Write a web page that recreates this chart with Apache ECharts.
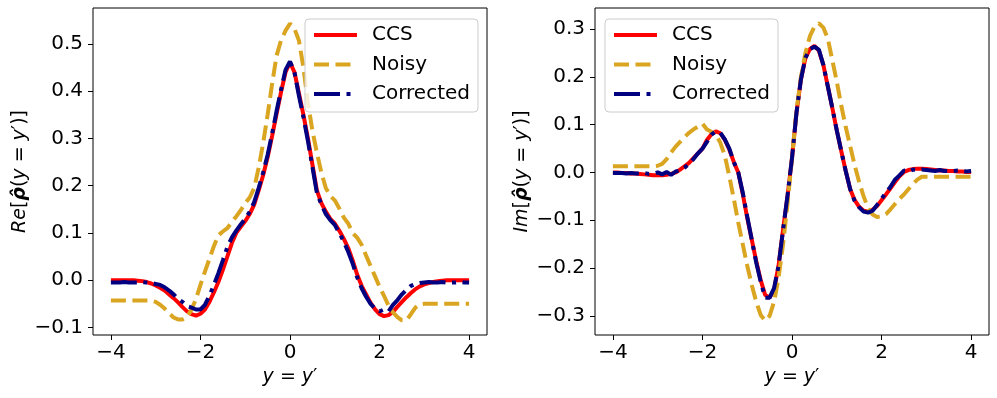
<!DOCTYPE html>
<html>
<head>
<meta charset="utf-8">
<script src="https://cdn.jsdelivr.net/npm/echarts@6/dist/echarts.min.js"></script>
<style>
  html, body { margin: 0; padding: 0; background: #fff; }
  #chart { width: 997px; height: 398px; }
</style>
</head>
<body>
<div id="chart"></div>
<script>
// positions along y = y'
const xs = [
  -4.0, -3.9, -3.8, -3.7, -3.6, -3.5, -3.4, -3.3, -3.2, -3.1,
  -3.0, -2.9, -2.8, -2.7, -2.6, -2.5, -2.4, -2.3, -2.2, -2.1,
  -2.0, -1.9, -1.8, -1.7, -1.6, -1.5, -1.4, -1.3, -1.2, -1.1,
  -1.0, -0.9, -0.8, -0.7, -0.6, -0.5, -0.4, -0.3, -0.2, -0.1,
  0.0, 0.1, 0.2, 0.3, 0.4, 0.5, 0.6, 0.7, 0.8, 0.9,
  1.0, 1.1, 1.2, 1.3, 1.4, 1.5, 1.6, 1.7, 1.8, 1.9,
  2.0, 2.1, 2.2, 2.3, 2.4, 2.5, 2.6, 2.7, 2.8, 2.9,
  3.0, 3.1, 3.2, 3.3, 3.4, 3.5, 3.6, 3.7, 3.8, 3.9,
  4.0
]

// real part
const reCCS = [
  0, 0, 0, 0, 0, 0, -0.001, -0.002, -0.004, -0.007,
  -0.011, -0.016, -0.022, -0.030, -0.038, -0.047, -0.057, -0.066, -0.072, -0.075,
  -0.071, -0.062, -0.046, -0.026, -0.004, 0.022, 0.050, 0.078, 0.100, 0.113,
  0.125, 0.140, 0.160, 0.190, 0.222, 0.260, 0.305, 0.352, 0.398, 0.440,
  0.461, 0.440, 0.395, 0.350, 0.300, 0.245, 0.190, 0.163, 0.145, 0.130,
  0.120, 0.105, 0.088, 0.068, 0.042, 0.012, -0.012, -0.030, -0.048, -0.062,
  -0.072, -0.076, -0.074, -0.067, -0.056, -0.046, -0.036, -0.027, -0.019, -0.013,
  -0.009, -0.006, -0.004, -0.002, -0.001, 0, 0, 0, 0, 0,
  0
]
const reNoisy = [
  -0.043, -0.043, -0.043, -0.043, -0.043, -0.043, -0.043, -0.043, -0.043, -0.043,
  -0.046, -0.052, -0.060, -0.070, -0.079, -0.083, -0.083, -0.078, -0.062, -0.040,
  -0.010, 0.018, 0.045, 0.072, 0.095, 0.103, 0.110, 0.123, 0.135, 0.148,
  0.163, 0.175, 0.195, 0.238, 0.290, 0.350, 0.415, 0.475, 0.508, 0.528,
  0.543, 0.532, 0.507, 0.450, 0.375, 0.317, 0.270, 0.228, 0.195, 0.178,
  0.169, 0.152, 0.133, 0.120, 0.100, 0.090, 0.075, 0.052, 0.030, 0.008,
  -0.014, -0.033, -0.054, -0.068, -0.078, -0.085, -0.085, -0.072, -0.058, -0.051,
  -0.050, -0.050, -0.050, -0.050, -0.050, -0.050, -0.050, -0.050, -0.050, -0.050,
  -0.050
]
const reCorr = [
  -0.005, -0.005, -0.005, -0.004, -0.005, -0.005, -0.005, -0.004, -0.005, -0.006,
  -0.008, -0.010, -0.015, -0.022, -0.030, -0.040, -0.046, -0.055, -0.058, -0.062,
  -0.062, -0.052, -0.033, -0.010, 0.015, 0.042, 0.070, 0.090, 0.105, 0.118,
  0.130, 0.145, 0.165, 0.195, 0.228, 0.265, 0.310, 0.358, 0.403, 0.445,
  0.463, 0.440, 0.390, 0.345, 0.295, 0.240, 0.185, 0.160, 0.140, 0.127,
  0.117, 0.100, 0.082, 0.060, 0.035, 0.006, -0.017, -0.035, -0.050, -0.060,
  -0.066, -0.062, -0.066, -0.052, -0.042, -0.030, -0.020, -0.012, -0.008, -0.006,
  -0.005, -0.004, -0.005, -0.005, -0.004, -0.005, -0.005, -0.005, -0.004, -0.005,
  -0.005
]

// imaginary part
const imCCS = [
  0, 0, -0.001, -0.001, -0.002, -0.002, -0.003, -0.004, -0.005, -0.006,
  -0.006, -0.006, -0.005, -0.003, 0.000, 0.006, 0.013, 0.020, 0.030, 0.040,
  0.050, 0.068, 0.080, 0.086, 0.082, 0.068, 0.048, 0.022, 0.000, -0.045,
  -0.095, -0.140, -0.185, -0.225, -0.256, -0.262, -0.245, -0.195, -0.120, -0.050,
  0.030, 0.125, 0.195, 0.240, 0.258, 0.265, 0.255, 0.225, 0.180, 0.135,
  0.088, 0.045, 0.003, -0.035, -0.058, -0.072, -0.080, -0.082, -0.078, -0.070,
  -0.058, -0.046, -0.033, -0.020, -0.008, 0.001, 0.005, 0.007, 0.008, 0.008,
  0.007, 0.006, 0.005, 0.004, 0.004, 0.003, 0.003, 0.002, 0.002, 0.001,
  0.001
]
const imNoisy = [
  0.013, 0.013, 0.013, 0.013, 0.013, 0.013, 0.013, 0.013, 0.013, 0.013,
  0.014, 0.018, 0.028, 0.042, 0.054, 0.064, 0.074, 0.083, 0.090, 0.096,
  0.102, 0.090, 0.085, 0.078, 0.062, 0.035, -0.008, -0.055, -0.105, -0.150,
  -0.195, -0.235, -0.270, -0.298, -0.310, -0.300, -0.270, -0.220, -0.150, -0.065,
  0.030, 0.130, 0.200, 0.250, 0.285, 0.305, 0.312, 0.303, 0.280, 0.235,
  0.190, 0.140, 0.095, 0.055, 0.015, -0.020, -0.050, -0.075, -0.088, -0.093,
  -0.092, -0.087, -0.077, -0.066, -0.055, -0.046, -0.035, -0.024, -0.015, -0.009,
  -0.009, -0.009, -0.009, -0.009, -0.009, -0.009, -0.009, -0.009, -0.009, -0.009,
  -0.009
]
const imCorr = [
  -0.001, -0.001, -0.001, -0.002, -0.001, -0.002, -0.002, -0.001, -0.003, -0.002,
  0.000, -0.004, 0.001, -0.005, 0.002, 0.004, 0.010, 0.018, 0.028, 0.040,
  0.050, 0.064, 0.079, 0.086, 0.083, 0.069, 0.050, 0.022, 0.000, -0.042,
  -0.092, -0.140, -0.188, -0.228, -0.262, -0.262, -0.242, -0.195, -0.120, -0.048,
  0.030, 0.125, 0.195, 0.240, 0.258, 0.263, 0.257, 0.225, 0.180, 0.135,
  0.088, 0.045, 0.003, -0.035, -0.060, -0.073, -0.082, -0.084, -0.080, -0.068,
  -0.055, -0.042, -0.030, -0.015, -0.006, 0.004, 0.002, 0.006, 0.005, 0.006,
  0.005, 0.004, 0.003, 0.005, 0.003, 0.003, 0.003, 0.004, 0.003, 0.002,
  0.003
]

// tick labels
const xTicks = [-4, -2, 0, 2, 4]
const reTicks = [-0.1, 0.0, 0.1, 0.2, 0.3, 0.4, 0.5]
const imTicks = [-0.3, -0.2, -0.1, 0.0, 0.1, 0.2, 0.3]
const names = ['CCS', 'Noisy', 'Corrected']

const FONT = 'DejaVu Sans'
const FS = 20
const minus = v => (v < 0 ? '\u2212' : '')
const fmtInt = v => minus(v) + Math.abs(v)
const fmt1 = v => minus(v) + Math.abs(v).toFixed(1)
const pairs = ys => xs.map((x, i) => [x, ys[i]])

const nameRich = {
  i: { fontStyle: 'italic', fontSize: 19, fontFamily: FONT, color: '#000' },
  b: { fontStyle: 'italic', fontWeight: 'bold', fontSize: 19, fontFamily: FONT, color: '#000' }
}

function xAxisOf(idx) {
  return {
    type: 'value', gridIndex: idx, min: -4.4, max: 4.4, position: 'bottom',
    name: '{i|y} = {i|y}\u2032', nameLocation: 'middle', nameGap: 30,
    nameTextStyle: { fontSize: 19, fontFamily: FONT, color: '#000', rich: nameRich },
    axisLine: { show: false, onZero: false },
    axisTick: { show: true, length: 5, lineStyle: { color: '#000', width: 1 }, customValues: xTicks },
    axisLabel: { color: '#000', fontSize: FS, fontFamily: FONT, margin: 8, customValues: xTicks, formatter: fmtInt },
    splitLine: { show: false }
  }
}

function yAxisOf(idx, min, max, ticks, label) {
  return {
    type: 'value', gridIndex: idx, min: min, max: max, position: 'left',
    name: label, nameLocation: 'middle', nameGap: 63,
    nameTextStyle: { fontSize: 19, fontFamily: FONT, color: '#000', rich: nameRich },
    axisLine: { show: false, onZero: false },
    axisTick: { show: true, length: 5, lineStyle: { color: '#000', width: 1 }, customValues: ticks },
    axisLabel: { color: '#000', fontSize: FS, fontFamily: FONT, margin: 10, customValues: ticks, formatter: fmt1 },
    splitLine: { show: false }
  }
}

function legendOf(left) {
  return {
    data: names, orient: 'vertical', left: left, top: 19,
    padding: [6, 8, 8, 7], itemWidth: 43, itemHeight: 14, itemGap: 9.5,
    backgroundColor: 'rgba(255,255,255,0.8)', borderColor: '#cccccc', borderWidth: 1, borderRadius: 4,
    itemStyle: { opacity: 0 },
    lineStyle: { width: 4 },
    textStyle: { fontSize: FS, fontFamily: FONT, color: '#000', padding: [0, 0, 0, 10] },
    selectedMode: false
  }
}

const styles = [
  { color: '#ff0000', type: 'solid' },
  { color: '#daa520', type: [15, 6.5] },
  { color: '#000080', type: [26, 6.5, 4, 6.5] }
]

function seriesOf(idx, sets) {
  return sets.map((ys, k) => ({
    name: names[k], type: 'line', xAxisIndex: idx, yAxisIndex: idx,
    data: pairs(ys), symbol: 'none', symbolSize: 0, showSymbol: false, smooth: false,
    itemStyle: { color: styles[k].color },
    lineStyle: { color: styles[k].color, width: 4, type: styles[k].type },
    emphasis: { disabled: true }
  }))
}

const chart = echarts.init(document.getElementById('chart'), null, { renderer: 'canvas' })
chart.setOption({
  animation: false,
  backgroundColor: '#fff',
  textStyle: { fontFamily: FONT },
  grid: [
    { left: 93, top: 8, width: 394, height: 327, show: true, borderColor: '#000', borderWidth: 1, backgroundColor: 'transparent' },
    { left: 595, top: 8, width: 394, height: 327, show: true, borderColor: '#000', borderWidth: 1, backgroundColor: 'transparent' }
  ],
  xAxis: [xAxisOf(0), xAxisOf(1)],
  yAxis: [
    yAxisOf(0, -0.116, 0.576, reTicks, '{i|Re}[{b|\u03c1\u0302}({i|y} = {i|y}\u2032)]'),
    yAxisOf(1, -0.34, 0.344, imTicks, '{i|Im}[{b|\u03c1\u0302}({i|y} = {i|y}\u2032)]')
  ],
  legend: [legendOf(305), legendOf(605)],
  series: seriesOf(0, [reCCS, reNoisy, reCorr]).concat(seriesOf(1, [imCCS, imNoisy, imCorr]))
})
</script>
</body>
</html>
